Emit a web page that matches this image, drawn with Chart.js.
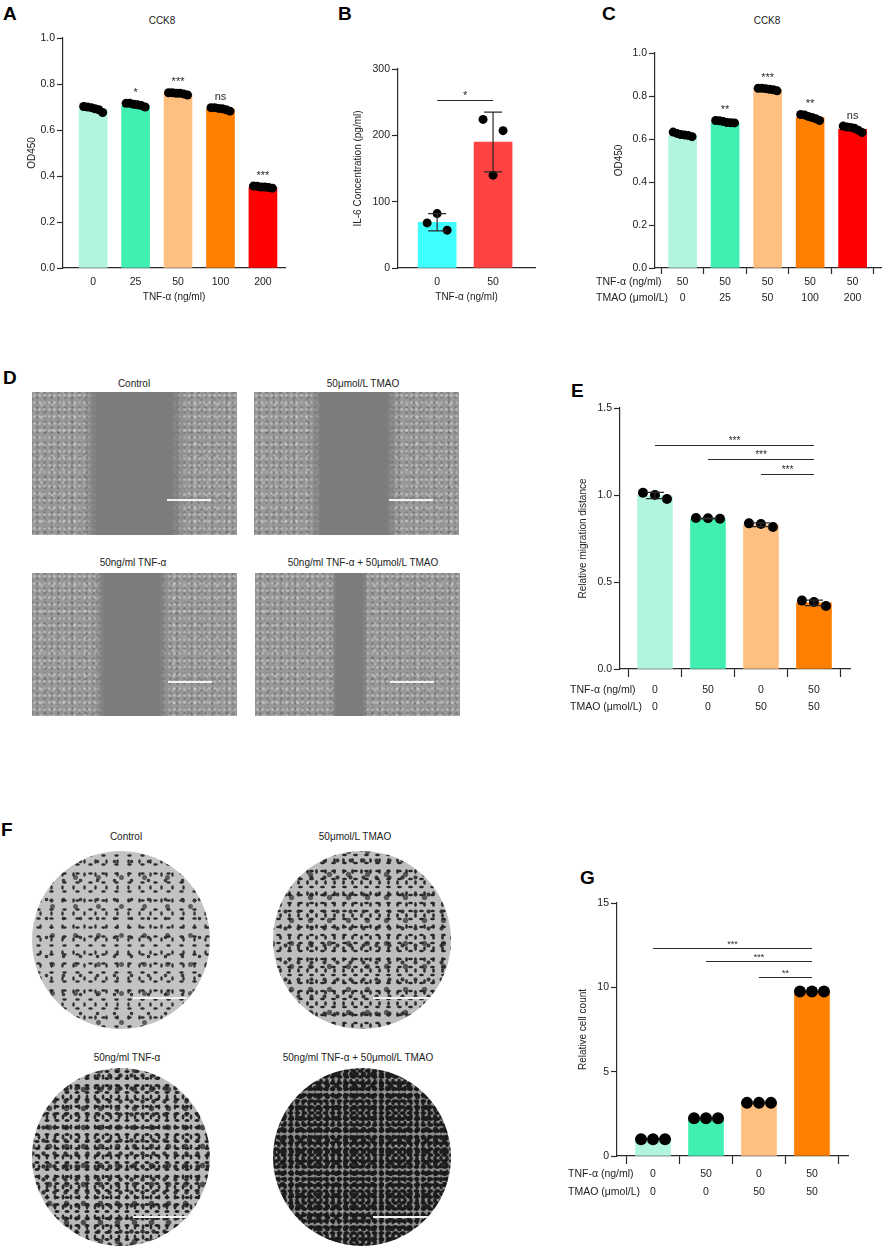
<!DOCTYPE html>
<html>
<head>
<meta charset="utf-8">
<script src="https://cdn.jsdelivr.net/npm/chart.js@4.4.0/dist/chart.umd.min.js"></script>
<style>
body { margin: 0; background: #fff; }
#page { position: relative; width: 886px; height: 1249px; overflow: hidden; font-family: "Liberation Sans", Arial, sans-serif; color: #222; }
canvas { position: absolute; }
.letter { position: absolute; font-weight: bold; font-size: 19px; line-height: 1; color: #000; }
.cap { position: absolute; font-size: 10px; line-height: 1; transform: translate(-50%, -50%); white-space: nowrap; }
.scr { position: absolute; width: 205px; height: 143px; overflow: hidden; background-color: #989898;
  background-image:
    radial-gradient(circle, rgba(235,235,235,.38) 0 1px, transparent 1.7px),
    radial-gradient(circle, rgba(60,60,60,.28) 0 1px, transparent 1.7px),
    radial-gradient(circle, rgba(225,225,225,.32) 0 1.3px, transparent 2.1px),
    radial-gradient(circle, rgba(70,70,70,.22) 0 1.2px, transparent 2px);
  background-size: 5px 7px, 7px 5px, 11px 13px, 13px 11px;
  background-position: 0 0, 2px 3px, 4px 6px, 7px 2px; }
.gap { position: absolute; top: 0; bottom: 0;
  background: linear-gradient(to right, rgba(124,124,124,0), #7c7c7c 14%, #7c7c7c 86%, rgba(124,124,124,0)); }
.sbar { position: absolute; height: 1.5px; background: #f2f2f2; }
.well { position: absolute; width: 178px; height: 178px; border-radius: 50%; overflow: hidden; }
.w1 { background-color: #c3c3c3;
  background-image:
    radial-gradient(ellipse 3px 1.6px, #2c2c2c 0 50%, transparent 100%),
    radial-gradient(ellipse 1.6px 3px, #333 0 50%, transparent 100%),
    radial-gradient(circle, rgba(40,40,40,.85) 0 1.5px, transparent 2.2px),
    radial-gradient(circle, rgba(50,50,50,.7) 0 2px, transparent 3px);
  background-size: 13px 9px, 11px 13px, 17px 19px, 23px 29px;
  background-position: 0 0, 3px 4px, 6px 1px, 9px 12px; }
.w2 { background-color: #bdbdbd;
  background-image:
    radial-gradient(ellipse 3px 1.7px, #262626 0 55%, transparent 100%),
    radial-gradient(ellipse 1.7px 3px, #2e2e2e 0 55%, transparent 100%),
    radial-gradient(circle, rgba(35,35,35,.85) 0 1.7px, transparent 2.4px),
    radial-gradient(circle, rgba(45,45,45,.7) 0 2.2px, transparent 3.2px);
  background-size: 11px 8px, 9px 11px, 13px 17px, 19px 23px;
  background-position: 0 0, 3px 4px, 6px 1px, 9px 12px; }
.w3 { background-color: #bababa;
  background-image:
    radial-gradient(ellipse 3.2px 1.8px, #222 0 55%, transparent 100%),
    radial-gradient(ellipse 1.8px 3.2px, #2a2a2a 0 55%, transparent 100%),
    radial-gradient(circle, rgba(30,30,30,.85) 0 1.8px, transparent 2.5px),
    radial-gradient(circle, rgba(40,40,40,.75) 0 2.3px, transparent 3.3px);
  background-size: 10px 7px, 8px 10px, 11px 13px, 17px 19px;
  background-position: 0 0, 3px 4px, 6px 1px, 9px 12px; }
.w4 { background-color: #8c8c8c;
  background-image:
    radial-gradient(ellipse 3.4px 2.2px, #181818 0 60%, transparent 100%),
    radial-gradient(ellipse 2.2px 3.4px, #1e1e1e 0 60%, transparent 100%),
    radial-gradient(circle, rgba(20,20,20,.9) 0 2.2px, transparent 3px),
    radial-gradient(circle, rgba(185,185,185,.45) 0 1.4px, transparent 2.2px);
  background-size: 7px 6px, 6px 7px, 9px 11px, 11px 13px;
  background-position: 0 0, 3px 3px, 5px 1px, 8px 6px; }
</style>
</head>
<body>
<div id="page">
  <div class="letter" style="left:3px;top:4px">A</div>
  <div class="letter" style="left:338px;top:4px">B</div>
  <div class="letter" style="left:602px;top:4px">C</div>
  <div class="letter" style="left:3px;top:368px">D</div>
  <div class="letter" style="left:571px;top:381px">E</div>
  <div class="letter" style="left:1px;top:820px">F</div>
  <div class="letter" style="left:580px;top:868px">G</div>

  <div class="cap" style="left:162px;top:21px">CCK8</div>
  <div class="cap" style="left:767px;top:21px">CCK8</div>

  <!-- D: scratch wound images -->
  <div class="cap" style="left:134px;top:384px">Control</div>
  <div class="cap" style="left:363px;top:384px">50μmol/L TMAO</div>
  <div class="cap" style="left:133px;top:563px">50ng/ml TNF-α</div>
  <div class="cap" style="left:363px;top:563px">50ng/ml TNF-α + 50μmol/L TMAO</div>
  <div class="scr" style="left:32px;top:392px"><div class="gap" style="left:51px;width:103px"></div><div class="sbar" style="left:135px;top:107px;width:44px"></div></div>
  <div class="scr" style="left:254px;top:392px"><div class="gap" style="left:55px;width:90px"></div><div class="sbar" style="left:135px;top:107px;width:44px"></div></div>
  <div class="scr" style="left:32px;top:573px"><div class="gap" style="left:62px;width:76px"></div><div class="sbar" style="left:136px;top:108px;width:44px"></div></div>
  <div class="scr" style="left:255px;top:573px"><div class="gap" style="left:76px;width:37px"></div><div class="sbar" style="left:135px;top:108px;width:44px"></div></div>

  <!-- F: transwell images -->
  <div class="cap" style="left:126px;top:837px">Control</div>
  <div class="cap" style="left:355px;top:837px">50μmol/L TMAO</div>
  <div class="cap" style="left:127px;top:1058px">50ng/ml TNF-α</div>
  <div class="cap" style="left:358px;top:1058px">50ng/ml TNF-α + 50μmol/L TMAO</div>
  <div class="well w1" style="left:32px;top:851px"><div class="sbar" style="left:101px;top:146px;width:54px"></div></div>
  <div class="well w2" style="left:273px;top:851px"><div class="sbar" style="left:100px;top:146px;width:57px"></div></div>
  <div class="well w3" style="left:32px;top:1068px"><div class="sbar" style="left:101px;top:148px;width:55px"></div></div>
  <div class="well w4" style="left:273px;top:1068px"><div class="sbar" style="left:100px;top:148px;width:57px"></div></div>

  <canvas id="chartA"></canvas>
  <canvas id="chartB"></canvas>
  <canvas id="chartC"></canvas>
  <canvas id="chartE"></canvas>
  <canvas id="chartG"></canvas>
</div>

<script>
// ---- data ----
const palette5 = ['#b2f5dd', '#41f0b0', '#ffbf80', '#ff8000', '#ff0000'];

// A: CCK8 vs TNF-α dose
const aDoses = ['0', '25', '50', '100', '200'];
const aMeans = [0.69, 0.705, 0.755, 0.69, 0.35];
const aReps = [
  [0.702, 0.700, 0.697, 0.692, 0.688, 0.676],
  [0.716, 0.716, 0.712, 0.710, 0.706, 0.700],
  [0.762, 0.762, 0.760, 0.760, 0.757, 0.752],
  [0.697, 0.697, 0.694, 0.692, 0.688, 0.682],
  [0.356, 0.355, 0.352, 0.352, 0.350, 0.347]
];
const aSig = ['', '*', '***', 'ns', '***'];

// B: IL-6
const bDoses = ['0', '50'];
const bMeans = [69, 190];
const bSD = [13, 45];
const bReps = [[68, 82, 57], [224, 140, 207]];
const bBrackets = [{ from: 0, to: 1, y: 253, text: '*' }];

// C: CCK8 vs TMAO dose under TNF-α
const cTnf = ['50', '50', '50', '50', '50'];
const cTmao = ['0', '25', '50', '100', '200'];
const cMeans = [0.615, 0.675, 0.828, 0.70, 0.645];
const cReps = [
  [0.632, 0.626, 0.621, 0.619, 0.616, 0.611],
  [0.686, 0.685, 0.681, 0.677, 0.676, 0.675],
  [0.836, 0.836, 0.834, 0.831, 0.829, 0.824],
  [0.714, 0.712, 0.705, 0.700, 0.694, 0.686],
  [0.660, 0.656, 0.654, 0.650, 0.641, 0.630]
];
const cSig = ['', '**', '***', '**', 'ns'];

// E: migration distance
const eTnf = ['0', '50', '0', '50'];
const eTmao = ['0', '0', '50', '50'];
const eMeans = [0.997, 0.865, 0.829, 0.38];
const eSD = [0.018, 0.002, 0.011, 0.016];
const eReps = [[1.013, 1.0, 0.977], [0.868, 0.866, 0.864], [0.837, 0.833, 0.816], [0.393, 0.385, 0.362]];
const eBrackets = [
  { from: 0, to: 3, y: 1.287, text: '***' },
  { from: 1, to: 3, y: 1.207, text: '***' },
  { from: 2, to: 3, y: 1.12, text: '***' }
];

// G: relative cell count
const gTnf = ['0', '50', '0', '50'];
const gTmao = ['0', '0', '50', '50'];
const gMeans = [1.0, 2.24, 3.15, 9.75];
const gReps = [[1.0, 1.0, 1.0], [2.24, 2.24, 2.24], [3.15, 3.15, 3.15], [9.75, 9.75, 9.75]];
const gBrackets = [
  { from: 0, to: 3, y: 12.34, text: '***' },
  { from: 1, to: 3, y: 11.57, text: '***' },
  { from: 2, to: 3, y: 10.6, text: '**' }
];

const rowNames = ['TNF-α (ng/ml)', 'TMAO (μmol/L)'];

Chart.defaults.font.family = "'Liberation Sans', Arial, sans-serif";
Chart.defaults.color = '#222';
const FONT = "'Liberation Sans', Arial, sans-serif";
const INK = '#2a2a2a';

// significance marks, error bars and the row labels under C/E/G
const annot = {
  id: 'annot',
  afterDatasetsDraw(chart, args, o) {
    const { ctx } = chart;
    const x = chart.scales.x, y = chart.scales.y;
    ctx.save();
    ctx.strokeStyle = INK;
    ctx.fillStyle = INK;
    ctx.lineWidth = 1.2;
    (o.sd || []).forEach((s, i) => {
      if (!s) return;
      const m = o.means[i], px = x.getPixelForValue(i);
      const lo = y.getPixelForValue(m - s), hi = y.getPixelForValue(m + s);
      ctx.beginPath();
      ctx.moveTo(px, lo); ctx.lineTo(px, hi);
      ctx.moveTo(px - o.cap, lo); ctx.lineTo(px + o.cap, lo);
      ctx.moveTo(px - o.cap, hi); ctx.lineTo(px + o.cap, hi);
      ctx.stroke();
    });
    ctx.textAlign = 'center';
    ctx.textBaseline = 'alphabetic';
    ctx.font = o.starSize + 'px ' + FONT;
    (o.stars || []).forEach((t, i) => {
      if (!t) return;
      const top = Math.max(...o.reps[i]);
      ctx.fillText(t, x.getPixelForValue(i), y.getPixelForValue(top) - o.dotR - 3);
    });
    ctx.lineWidth = 1;
    (o.brackets || []).forEach(b => {
      const x0 = x.getPixelForValue(b.from), x1 = x.getPixelForValue(b.to);
      const py = Math.round(y.getPixelForValue(b.y)) + 0.5;
      ctx.beginPath(); ctx.moveTo(x0, py); ctx.lineTo(x1, py); ctx.stroke();
      ctx.fillText(b.text, (x0 + x1) / 2, py - 2);
    });
    ctx.restore();
  },
  afterDraw(chart, args, o) {
    if (!o.rows) return;
    const { ctx } = chart;
    const item = chart.scales.x.getLabelItems()[0];
    if (!item) return;
    ctx.save();
    ctx.fillStyle = '#222';
    ctx.font = item.font.string;
    ctx.textAlign = 'left';
    ctx.textBaseline = item.options.textBaseline;
    o.rows.forEach((name, r) => {
      const yy = item.options.translation[1] + item.textOffset + r * item.font.lineHeight;
      ctx.fillText(name, chart.scales.x.left - o.rowIndent, yy);
    });
    ctx.restore();
  }
};

function makePanel(id, box, frame, cfg) {
  const cv = document.getElementById(id);
  cv.width = box.w; cv.height = box.h;
  cv.style.left = box.x + 'px'; cv.style.top = box.y + 'px';
  cv.style.width = box.w + 'px'; cv.style.height = box.h + 'px';

  const unitPx = (frame.right - frame.axis) / (cfg.xMax - cfg.xMin);
  const dots = [];
  cfg.reps.forEach((vals, i) => {
    vals.forEach((v, k) => {
      dots.push({ x: i + (k - (vals.length - 1) / 2) * cfg.jitPx / unitPx, y: v });
    });
  });

  const padLeft = cfg.yTitleX - box.x - 10;
  const yWidth = frame.axis - box.x - padLeft;
  const xHeight = box.y + box.h - frame.bottom;

  const xTicks = cfg.xTicks;
  new Chart(cv, {
    type: 'bar',
    data: {
      datasets: [
        {
          type: 'scatter',
          data: dots,
          pointRadius: cfg.dotR,
          pointHoverRadius: cfg.dotR,
          pointBackgroundColor: '#000',
          pointBorderWidth: 0,
          order: 1
        },
        {
          type: 'bar',
          data: cfg.means.map((v, i) => ({ x: i, y: v })),
          backgroundColor: cfg.colors,
          borderWidth: 0,
          barThickness: cfg.barW,
          order: 2
        }
      ]
    },
    options: {
      responsive: false,
      animation: false,
      events: [],
      layout: {
        padding: { left: padLeft, top: frame.top - box.y, right: box.x + box.w - frame.right, bottom: 0 }
      },
      plugins: {
        legend: { display: false },
        tooltip: { enabled: false },
        annot: {
          means: cfg.means, sd: cfg.sd, cap: cfg.cap || 9, reps: cfg.reps, dotR: cfg.dotR,
          stars: cfg.stars, brackets: cfg.brackets, starSize: cfg.starSize || 11,
          rows: cfg.rows, rowIndent: cfg.rowIndent
        }
      },
      scales: {
        x: {
          type: 'linear',
          offset: false,
          min: cfg.xMin,
          max: cfg.xMax,
          afterBuildTicks: s => { s.ticks = cfg.means.map((_, i) => ({ value: i })); },
          afterFit: s => { s.height = xHeight; },
          ticks: {
            autoSkip: false,
            maxRotation: 0,
            padding: cfg.xPad,
            color: '#222',
            font: { size: 10.5, lineHeight: cfg.xLine },
            callback: v => xTicks(v)
          },
          grid: {
            display: cfg.xTickLen > 0,
            drawOnChartArea: false,
            drawTicks: cfg.xTickLen > 0,
            tickLength: cfg.xTickLen,
            tickColor: INK,
            tickWidth: 1.2
          },
          border: { display: true, color: INK, width: 1.2 },
          title: cfg.xTitle
            ? { display: true, text: cfg.xTitle, color: '#222', font: { size: 10 }, padding: { top: 0, bottom: 4 } }
            : { display: false }
        },
        y: {
          min: 0,
          max: cfg.yMax,
          afterFit: s => { s.width = yWidth; },
          ticks: {
            stepSize: cfg.yStep,
            color: '#222',
            padding: 2,
            font: { size: 10.5 },
            callback: v => v.toFixed(cfg.yDec)
          },
          grid: {
            display: true,
            drawOnChartArea: false,
            drawTicks: true,
            tickLength: 6,
            tickColor: INK,
            tickWidth: 1.2
          },
          border: { display: true, color: INK, width: 1.2 },
          title: { display: true, text: cfg.yTitle, color: '#222', font: { size: 10 }, padding: { top: 4, bottom: 4 } }
        }
      }
    },
    plugins: [annot]
  });
}

makePanel('chartA', { x: 0, y: 0, w: 292, h: 307 }, { axis: 63, right: 285, top: 38, bottom: 268 }, {
  means: aMeans, reps: aReps, colors: palette5, stars: aSig,
  xMin: -0.71, xMax: 4.52, barW: 28, dotR: 4.5, jitPx: 3.8,
  xTicks: v => aDoses[v], xTickLen: 0, xPad: 8, xLine: 1.2, xTitle: 'TNF-α (ng/ml)',
  yMax: 1, yStep: 0.2, yDec: 1, yTitle: 'OD450', yTitleX: 32
});

makePanel('chartB', { x: 330, y: 40, w: 210, h: 267 }, { axis: 398, right: 535, top: 69, bottom: 268 }, {
  means: bMeans, reps: bReps, sd: bSD, cap: 9, colors: ['#40ffff', '#ff4242'], brackets: bBrackets,
  xMin: -0.70, xMax: 1.75, barW: 38, dotR: 4.5, jitPx: 10,
  xTicks: v => bDoses[v], xTickLen: 0, xPad: 8, xLine: 1.2, xTitle: 'TNF-α (ng/ml)',
  yMax: 300, yStep: 100, yDec: 0, yTitle: 'IL-6 Concentration (pg/ml)', yTitleX: 358
});

makePanel('chartC', { x: 580, y: 30, w: 306, h: 280 }, { axis: 655, right: 883, top: 53, bottom: 268 }, {
  means: cMeans, reps: cReps, colors: palette5, stars: cSig,
  xMin: -0.65, xMax: 4.68, barW: 28, dotR: 4.5, jitPx: 3.8,
  xTicks: v => [cTnf[v], cTmao[v]], xTickLen: 6, xPad: 0, xLine: 16 / 10.5,
  rows: rowNames, rowIndent: 59,
  yMax: 1, yStep: 0.2, yDec: 1, yTitle: 'OD450', yTitleX: 619
});

makePanel('chartE', { x: 545, y: 395, w: 341, h: 330 }, { axis: 620, right: 850, top: 408, bottom: 669 }, {
  means: eMeans, reps: eReps, sd: eSD, cap: 9, colors: palette5.slice(0, 4), brackets: eBrackets, starSize: 10,
  xMin: -0.66, xMax: 3.68, barW: 35, dotR: 5, jitPx: 12,
  xTicks: v => [eTnf[v], eTmao[v]], xTickLen: 8, xPad: 4.5, xLine: 17 / 10.5,
  rows: rowNames, rowIndent: 50,
  yMax: 1.5, yStep: 0.5, yDec: 1, yTitle: 'Relative migration distance', yTitleX: 583
});

makePanel('chartG', { x: 545, y: 890, w: 341, h: 320 }, { axis: 617, right: 848, top: 903, bottom: 1156 }, {
  means: gMeans, reps: gReps, colors: palette5.slice(0, 4), brackets: gBrackets, starSize: 9,
  xMin: -0.68, xMax: 3.68, barW: 35, dotR: 6, jitPx: 12,
  xTicks: v => [gTnf[v], gTmao[v]], xTickLen: 8, xPad: 1, xLine: 18 / 10.5,
  rows: rowNames, rowIndent: 49,
  yMax: 15, yStep: 5, yDec: 0, yTitle: 'Relative cell count', yTitleX: 583
});
</script>
</body>
</html>
